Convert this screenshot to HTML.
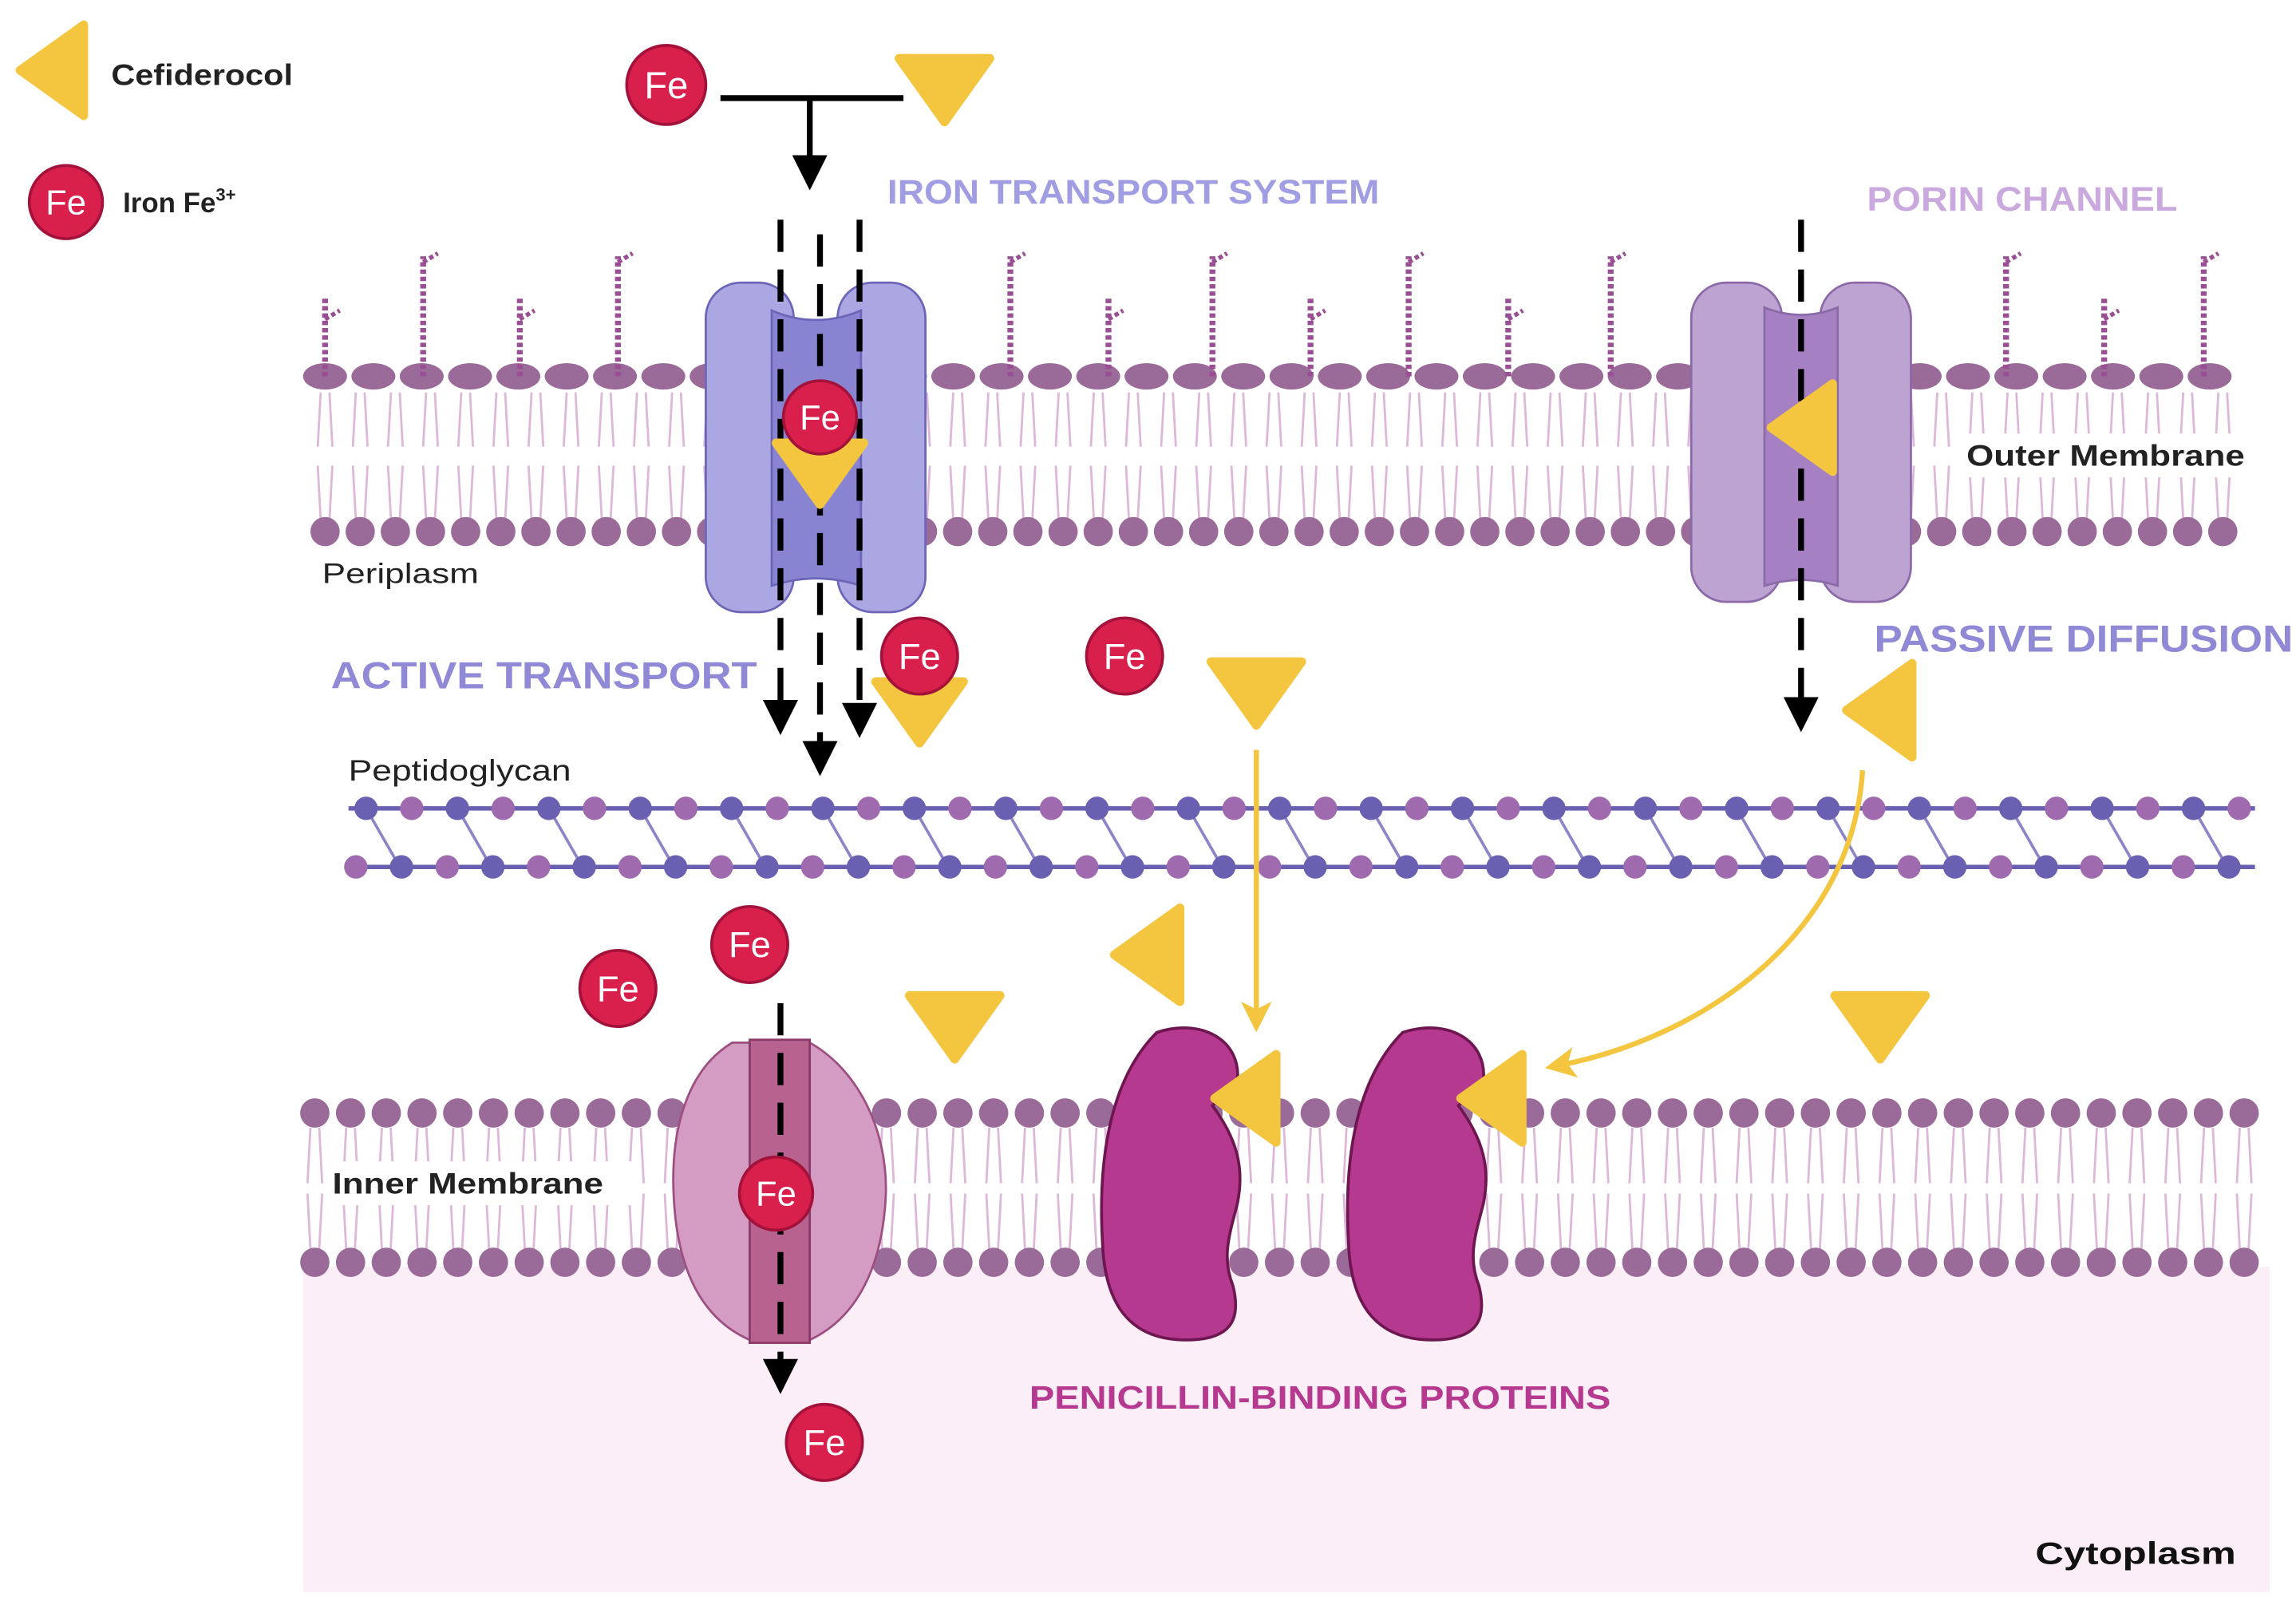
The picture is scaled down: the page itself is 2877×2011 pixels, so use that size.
<!DOCTYPE html>
<html><head><meta charset="utf-8">
<style>
html,body{margin:0;padding:0;background:#fff;}
svg{display:block;}
text{font-family:"Liberation Sans",sans-serif;}
</style></head>
<body>
<svg id="s" width="2877" height="2011" viewBox="0 0 1568 1096" preserveAspectRatio="none" xmlns="http://www.w3.org/2000/svg">
<defs>
<marker id="ab" markerWidth="6" markerHeight="6" refX="3" refY="3" orient="auto" markerUnits="strokeWidth"><path d="M0,0 L6,3 L0,6 Z" fill="#000"/></marker>
<marker id="ay" markerWidth="6" markerHeight="6" refX="4" refY="3" orient="auto" markerUnits="strokeWidth"><path d="M0,0 L6,3 L0,6 L1.5,3 Z" fill="#f4c53f"/></marker>
</defs>
<rect x="0" y="0" width="1568" height="1096" fill="#fff"/>
<rect x="207" y="865" width="1343" height="222" fill="#fbeef6"/>
<g id="om"></g>
<g id="pg"></g>
<g id="im"></g>

<rect x="482" y="193" width="60" height="225" rx="24" fill="#aaa7e2" stroke="#6b66b8" stroke-width="1.5"/>
<rect x="572" y="193" width="60" height="225" rx="24" fill="#aaa7e2" stroke="#6b66b8" stroke-width="1.5"/>
<path d="M527 212 Q557 225 588 212 L588 400 Q557 390 527 400 Z" fill="#8884d2" stroke="#6b66b8" stroke-width="1.5"/>

<rect x="1155" y="193" width="62" height="218" rx="24" fill="#bca3d2" stroke="#8c6aa8" stroke-width="1.5"/>
<rect x="1243" y="193" width="62" height="218" rx="24" fill="#bca3d2" stroke="#8c6aa8" stroke-width="1.5"/>
<path d="M1205 210 Q1230 220 1255 210 L1255 400 Q1230 392 1205 400 Z" fill="#a580c3" stroke="#8c6aa8" stroke-width="1.5"/>

<path d="M500 712 C470 730 458 770 460 815 C462 865 478 900 512 915 L512 712 Z" fill="#d59cc3" stroke="#9c4f80" stroke-width="1.5"/>
<path d="M553 712 C585 730 606 770 605 815 C603 865 585 900 553 915 L553 712 Z" fill="#d59cc3" stroke="#9c4f80" stroke-width="1.5"/>
<rect x="512" y="710" width="41" height="207" fill="#b8628f" stroke="#8c3a6a" stroke-width="1.5"/>

<g transform="translate(750,700)"><path d="M40 5 C70 -5 98 10 95 38 L78 55 C95 78 100 98 95 122 C90 142 84 158 92 178 C98 202 90 215 60 215 C25 215 5 195 3 150 C0 100 5 40 40 5 Z" fill="#b5398f" stroke="#6e1650" stroke-width="2"/></g>
<g transform="translate(918,700)"><path d="M40 5 C70 -5 98 10 95 38 L78 55 C95 78 100 98 95 122 C90 142 84 158 92 178 C98 202 90 215 60 215 C25 215 5 195 3 150 C0 100 5 40 40 5 Z" fill="#b5398f" stroke="#6e1650" stroke-width="2"/></g>

<g stroke="#000" stroke-width="4" fill="none">
<line x1="492" y1="67" x2="617" y2="67"/>
<line x1="553" y1="67" x2="553" y2="118" marker-end="url(#ab)"/>
<line x1="533" y1="150" x2="533" y2="490" stroke-dasharray="22 12" marker-end="url(#ab)"/>
<line x1="560" y1="160" x2="560" y2="518" stroke-dasharray="22 12" marker-end="url(#ab)"/>
<line x1="587" y1="150" x2="587" y2="492" stroke-dasharray="22 12" marker-end="url(#ab)"/>
<line x1="1230" y1="150" x2="1230" y2="488" stroke-dasharray="22 12" marker-end="url(#ab)"/>
<line x1="533" y1="685" x2="533" y2="940" stroke-dasharray="22 12" marker-end="url(#ab)"/>
</g>
<g stroke="#f4c53f" stroke-width="3.5" fill="none">
<line x1="858" y1="512" x2="858" y2="698" marker-end="url(#ay)"/>
<path d="M1272 526 C1265 640 1160 710 1062 728" marker-end="url(#ay)"/>
</g>

<g id="sym"></g>

<text x="76" y="58" font-size="20" font-weight="bold" fill="#222" textLength="124" lengthAdjust="spacingAndGlyphs">Cefiderocol</text>
<text x="84" y="145" font-size="19" font-weight="bold" fill="#222">Iron Fe<tspan dy="-8" font-size="12">3+</tspan></text>
<text x="606" y="139" font-size="23" font-weight="bold" fill="#a19de3" textLength="336" lengthAdjust="spacingAndGlyphs">IRON TRANSPORT SYSTEM</text>
<text x="1275" y="144" font-size="23" font-weight="bold" fill="#caa9de" textLength="212" lengthAdjust="spacingAndGlyphs">PORIN CHANNEL</text>
<rect x="1336" y="296" width="200" height="30" fill="#fff"/>
<text x="1343" y="318" font-size="20" font-weight="bold" fill="#222" textLength="190" lengthAdjust="spacingAndGlyphs">Outer Membrane</text>
<text x="220" y="398" font-size="19" fill="#222" textLength="107" lengthAdjust="spacingAndGlyphs">Periplasm</text>
<text x="226" y="470" font-size="26" font-weight="bold" fill="#8f89d6" textLength="291" lengthAdjust="spacingAndGlyphs">ACTIVE TRANSPORT</text>
<text x="1280" y="445" font-size="26" font-weight="bold" fill="#8f89d6" textLength="286" lengthAdjust="spacingAndGlyphs">PASSIVE DIFFUSION</text>
<text x="238" y="533" font-size="20" fill="#222" textLength="152" lengthAdjust="spacingAndGlyphs">Peptidoglycan</text>
<rect x="222" y="793" width="212" height="30" fill="#fff"/>
<text x="227" y="815" font-size="20" font-weight="bold" fill="#222" textLength="185" lengthAdjust="spacingAndGlyphs">Inner Membrane</text>
<text x="703" y="962" font-size="22" font-weight="bold" fill="#b5398f" textLength="397" lengthAdjust="spacingAndGlyphs">PENICILLIN-BINDING  PROTEINS</text>
<text x="1390" y="1068" font-size="21" font-weight="bold" fill="#111" textLength="137" lengthAdjust="spacingAndGlyphs">Cytoplasm</text>
</svg>
<script>
const NS="http://www.w3.org/2000/svg";
function el(p,t,a){const e=document.createElementNS(NS,t);for(const k in a)e.setAttribute(k,a[k]);document.getElementById(p).appendChild(e);return e;}
const head="#9a6a99", tail="#dcb7d8";
for(let x=222;x<=1540;x+=24){
  el("om","line",{x1:x-3,y1:268,x2:x-5,y2:305,stroke:tail,"stroke-width":1.5});
  el("om","line",{x1:x+3,y1:268,x2:x+5,y2:305,stroke:tail,"stroke-width":1.5});
  el("om","line",{x1:x-5,y1:318,x2:x-3,y2:355,stroke:tail,"stroke-width":1.5});
  el("om","line",{x1:x+5,y1:318,x2:x+3,y2:355,stroke:tail,"stroke-width":1.5});
  el("om","circle",{cx:x,cy:363,r:10,fill:head});
}
for(let x=222;x<=1540;x+=33){el("om","ellipse",{cx:x,cy:257,rx:15,ry:9,fill:head});}
const gly=[[222,0],[289,1],[355,0],[422,1],[690,1],[757,0],[828,1],[895,0],[962,1],[1030,0],[1100,1],[1370,1],[1437,0],[1505,1]];
for(const [x,t] of gly){const top=t?175:202;
  el("om","line",{x1:x,y1:257,x2:x,y2:top,stroke:"#9a4f94","stroke-width":4,"stroke-dasharray":"3 2"});
  el("om","line",{x1:x,y1:top+(t?4:16),x2:x+10,y2:top+(t?-2:10),stroke:"#9a4f94","stroke-width":3,"stroke-dasharray":"3 2"});
}
for(let x=215;x<=1545;x+=24.4){
  el("im","line",{x1:x-3,y1:770,x2:x-5,y2:808,stroke:tail,"stroke-width":1.5});
  el("im","line",{x1:x+3,y1:770,x2:x+5,y2:808,stroke:tail,"stroke-width":1.5});
  el("im","line",{x1:x-5,y1:815,x2:x-3,y2:853,stroke:tail,"stroke-width":1.5});
  el("im","line",{x1:x+5,y1:815,x2:x+3,y2:853,stroke:tail,"stroke-width":1.5});
  el("im","circle",{cx:x,cy:760,r:10,fill:head});
  el("im","circle",{cx:x,cy:862,r:10,fill:head});
}
const pu="#a06aaf", bl="#6a60b2";
el("pg","line",{x1:238,y1:552,x2:1540,y2:552,stroke:bl,"stroke-width":3});
el("pg","line",{x1:238,y1:592,x2:1540,y2:592,stroke:bl,"stroke-width":3});
let i=0;
for(let x=250;x<=1500;x+=62.4){
  el("pg","line",{x1:x,y1:552,x2:x+23,y2:592,stroke:"#8c86c8","stroke-width":2});
}
i=0;for(let x=250;x<=1530;x+=31.2,i++){el("pg","circle",{cx:x,cy:552,r:8,fill:i%2?pu:bl});}
i=0;for(let x=243;x<=1535;x+=31.2,i++){el("pg","circle",{cx:x,cy:592,r:8,fill:i%2?bl:pu});}
const Y="#f4c53f";
function down(cx,cy,s){el("sym","path",{d:`M${cx-s} ${cy-s*0.65} L${cx+s} ${cy-s*0.65} L${cx} ${cy+s*0.75} Z`,fill:Y,stroke:Y,"stroke-width":6,"stroke-linejoin":"round"});}
function left(cx,cy,s){el("sym","path",{d:`M${cx-s*0.75} ${cy} L${cx+s*0.65} ${cy-s} L${cx+s*0.65} ${cy+s} Z`,fill:Y,stroke:Y,"stroke-width":6,"stroke-linejoin":"round"});}
function fe(cx,cy,r){el("sym","circle",{cx:cx,cy:cy,r:r,fill:"#d91f4b",stroke:"#a3123a","stroke-width":2});
  const t=el("sym","text",{x:cx,y:cy+r*0.33,"text-anchor":"middle","font-size":r*0.95,fill:"#fff"});t.textContent="Fe";}
left(37,48,31);
fe(45,138,25);
down(645,60,31);
fe(455,58,27);
down(560,322,30);
fe(560,285,25);
left(1232,292,30);
down(628,485,30);
fe(628,448,26);
fe(768,448,26);
down(858,472,31);
left(1285,485,32);
left(785,652,32);
down(652,700,31);
down(1284,700,31);
fe(512,645,26);
fe(422,675,26);
fe(530,815,25);
fe(563,985,26);
left(852,750,30);
left(1020,750,30);
</script>
</body></html>
